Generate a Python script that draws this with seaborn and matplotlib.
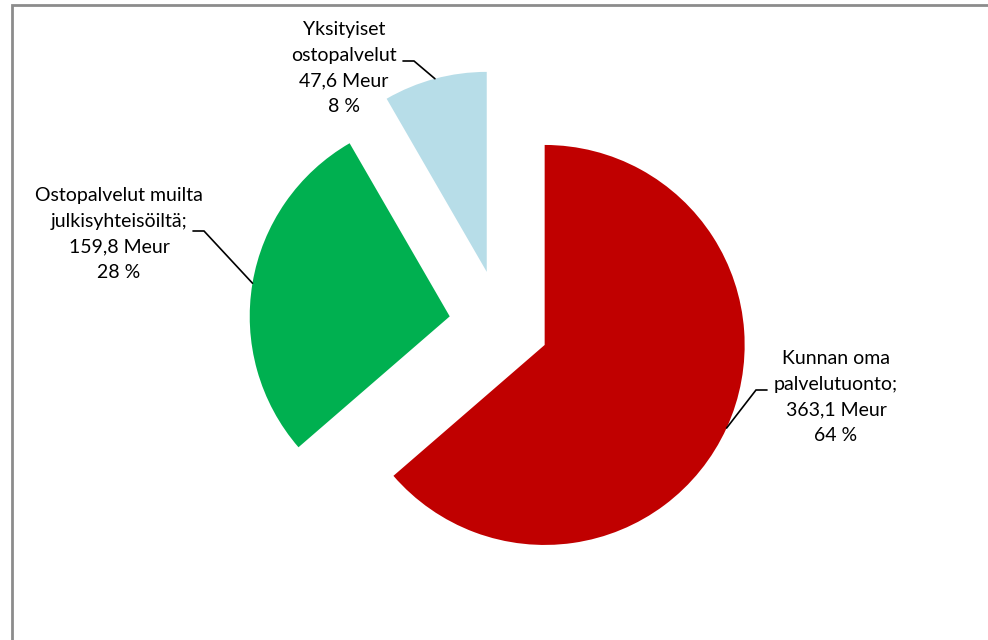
import numpy as np
import matplotlib
matplotlib.use("Agg")
import matplotlib.pyplot as plt
import seaborn as sns

# data
names = ["Kunnan oma\npalvelutuonto;", "Ostopalvelut muilta\njulkisyhteisöiltä;", "Yksityiset\nostopalvelut"]
values = [363.1, 159.8, 47.6]
colors = ["#C00000", "#00B050", "#B7DDE8"]

sns.set_theme(style="white")
plt.rcParams["font.family"] = ["Lato", "DejaVu Sans"]

W, H = 988, 640
fig = plt.figure(figsize=(W / 100, H / 100), dpi=100)
ax = fig.add_axes([0, 0, 1, 1])

# pie in pixel units, each slice pulled out from the centre
wedges, _ = ax.pie(values, colors=colors, startangle=90, counterclock=False,
                   center=(501, H - 325), radius=200, explode=[48, 52, 55],
                   wedgeprops=dict(linewidth=0), frame=True)
ax.set_xlim(0, W)
ax.set_ylim(0, H)
ax.set_aspect("equal")
ax.axis("off")

total = sum(values)
texts = []
for n, v in zip(names, values):
    pct = round(v / total * 100)
    texts.append(f"{n}\n{v:.1f}".replace(".", ",") + f" Meur\n{pct} %")

# label block centre and where the leader's horizontal piece starts (image px)
label_pos = [(836, 397), (119, 234), (344, 68)]
leader_start = [(767, 390), (193, 231), (403, 61)]
leader_dir = [-1, 1, 1]

for w, t, (lx, ly), (sx, sy), d in zip(wedges, texts, label_pos, leader_start, leader_dir):
    ax.text(lx, H - ly, t, ha="center", va="center", fontsize=14,
            color="#000000", linespacing=1.6)
    mid = np.deg2rad((w.theta1 + w.theta2) / 2)
    cx, cy = w.center
    px = cx + w.r * np.cos(mid)
    py = cy + w.r * np.sin(mid)
    ex = sx + d * 11
    ax.plot([sx, ex, px], [H - sy, H - sy, py], color="black", lw=1.2,
            solid_joinstyle="miter")

# chart area frame
ax.plot([11.5, 11.5, W + 5], [-5, H - 5, H - 5], color="#8C8C8C", lw=2,
        solid_joinstyle="miter")

fig.savefig("out.png", dpi=100)
